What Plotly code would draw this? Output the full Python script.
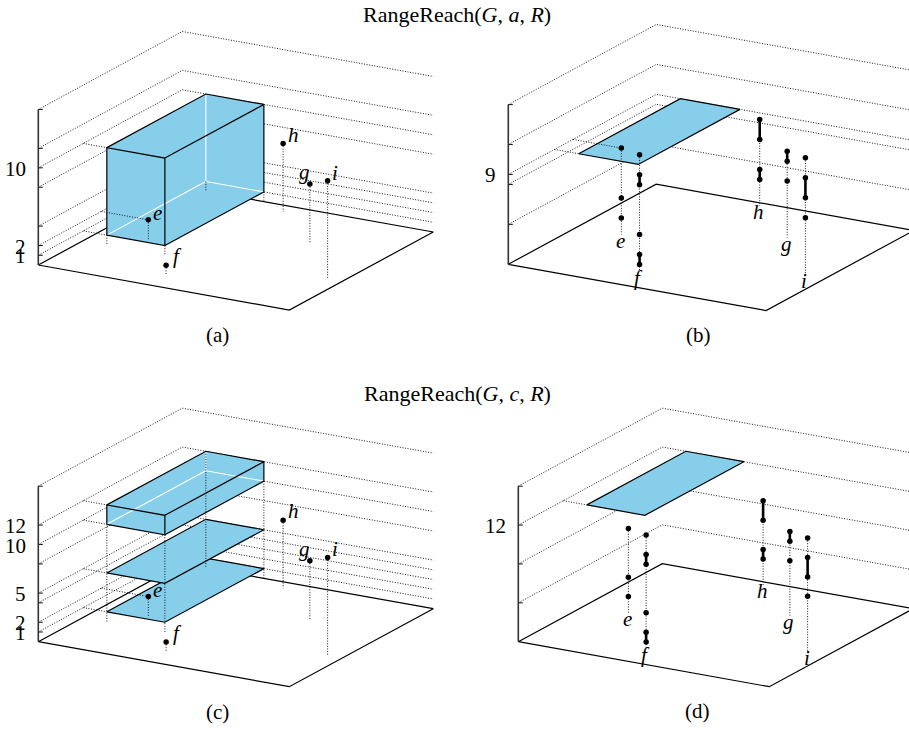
import plotly.graph_objects as go

# ---------------------------------------------------------------- data
# vertices of G: floor position (x, y) and their height z
NAMES = ["e", "f", "g", "h", "i"]
VX = [3, 7, 11, 7, 15]
VY = [7, 2, 11, 15, 6]
VZ = [2, 1, 6, 7, 10]

# floor footprint of the query region R
RX = [1.5, 5.2]
RY = [5, 16]

# z-extents of the region solids in each panel
A_BOX = [1, 10]
C_BOX = [10, 12]
C_PLANES = [5, 1]
B_PLANE = [9]
D_PLANE = [12]

# interval columns of panels (b) and (d): single instants and spans per vertex
E_POINTS = [9, 4, 2]
F_POINTS = [12, 4]
G_POINTS = [6]
H_POINTS = []
I_POINTS = [12, 6]
E_SPANS = []
F_SPANS = [[9, 10], [1, 2]]
G_SPANS = [[8, 9]]
H_SPANS = [[7, 9], [3, 4]]
I_SPANS = [[8, 10]]

# z ticks (grid levels) and the ones that carry a label
A_ZTICKS = [1, 2, 4, 8, 10, 12, 16]
A_ZBACK = [3]
A_ZLABELS = [1, 2, 10]
B_ZTICKS = [4, 8, 9, 12, 16]
B_ZLABELS = [9]
C_ZTICKS = [1, 2, 4, 5, 8, 10, 12, 16]
C_ZBACK = [3]
C_ZLABELS = [1, 2, 5, 10, 12]
D_ZTICKS = [4, 8, 12, 16]
D_ZLABELS = [12]

AXIS_MAX = 16

# ---------------------------------------------------------------- view
UX = (251 / 16, 45 / 16)
UY = (144 / 16, -78 / 16)
UZ = -9.72

W, H = 909, 731
BLUE = "#87CEEB"
DOT = "1px,1.6px"
GRID = "#1a1a1a"
FONT = "Liberation Serif"


class View:
    def __init__(self, ox, oy, k):
        self.ox, self.oy, self.k = ox, oy, k

    def p(self, x, y, z):
        k = self.k
        return (self.ox + k * (UX[0] * x + UY[0] * y),
                self.oy + k * (UX[1] * x + UY[1] * y + UZ * z))


fig = go.Figure()
annotations = []


def add_lines(view, polylines, color, width, dash=None):
    xs, ys = [], []
    for pl in polylines:
        for (x, y, z) in pl:
            px, py = view.p(x, y, z)
            xs.append(px)
            ys.append(py)
        xs.append(None)
        ys.append(None)
    fig.add_trace(go.Scatter(x=xs, y=ys, mode="lines",
                             line=dict(color=color, width=width, dash=dash),
                             hoverinfo="skip", showlegend=False))


def add_fill(view, polygons):
    xs, ys = [], []
    for poly in polygons:
        for (x, y, z) in poly + [poly[0]]:
            px, py = view.p(x, y, z)
            xs.append(px)
            ys.append(py)
        xs.append(None)
        ys.append(None)
    fig.add_trace(go.Scatter(x=xs, y=ys, mode="lines", fill="toself",
                             fillcolor=BLUE, line=dict(width=0, color=BLUE),
                             hoverinfo="skip", showlegend=False))


def add_dots(view, pts, size=5.5):
    xs, ys = [], []
    for (x, y, z) in pts:
        px, py = view.p(x, y, z)
        xs.append(px)
        ys.append(py)
    fig.add_trace(go.Scatter(x=xs, y=ys, mode="markers",
                             marker=dict(color="black", size=size, line=dict(width=0)),
                             hoverinfo="skip", showlegend=False))


def text(view, x, y, z, s, size=20, dx=0, dy=0, anchor="center"):
    px, py = view.p(x, y, z)
    annotations.append(dict(x=px, y=py, xref="x", yref="y", text=s, showarrow=False,
                            xanchor=anchor, yanchor="middle", xshift=dx, yshift=dy,
                            font=dict(family=FONT, size=size, color="black")))


def frame(view, zticks, zback, zlabels):
    m = AXIS_MAX
    back = sorted(set(zticks) | set(zback))
    grid = []
    for z in back:
        if z in zticks:
            grid.append([(0, 0, z), (0, m, z), (m, m, z)])
        else:
            grid.append([(0, m, z), (m, m, z)])
    add_lines(view, grid, GRID, 1.0, DOT)
    add_lines(view, [[(0, 0, 0), (m, 0, 0), (m, m, 0), (0, m, 0), (0, 0, 0)]], "black", 1.2)
    add_lines(view, [[(0, 0, 0), (0, 0, m)]], "#333", 1.6)
    # tick marks pointing into the plot
    xs, ys = [], []
    for z in zticks:
        px, py = view.p(0, 0, z)
        xs += [px, px + 4.5, None]
        ys += [py, py, None]
    fig.add_trace(go.Scatter(x=xs, y=ys, mode="lines", line=dict(color="#222", width=1.1),
                             hoverinfo="skip", showlegend=False))
    for z in zlabels:
        text(view, 0, 0, z, str(z), size=21, dx=-10.5, dy=-1, anchor="right")


def box(view, z0, z1):
    x0, x1 = RX
    y0, y1 = RY
    FLB, FRB, BRB, BLB = (x0, y0, z0), (x1, y0, z0), (x1, y1, z0), (x0, y1, z0)
    FLT, FRT, BRT, BLT = (x0, y0, z1), (x1, y0, z1), (x1, y1, z1), (x0, y1, z1)
    add_fill(view, [[FLB, FRB, BRB, BRT, BLT, FLT]])
    add_lines(view, [[BLB, BLT], [BLB, FLB], [BLB, BRB]], "white", 1.1)
    add_lines(view, [[FLB, FRB, FRT, FLT, FLB], [FLT, BLT, BRT, FRT],
                     [BRT, BRB, FRB]], "black", 1.2)


def plane(view, z):
    x0, x1 = RX
    y0, y1 = RY
    corners = [(x0, y0, z), (x1, y0, z), (x1, y1, z), (x0, y1, z)]
    add_fill(view, [corners])
    add_lines(view, [corners + [corners[0]]], "black", 1.2)


def points_panel(view):
    drops = [[(x, y, z), (x, y, 0)] for x, y, z in zip(VX, VY, VZ)]
    add_lines(view, drops, GRID, 1.0, DOT)
    add_dots(view, list(zip(VX, VY, VZ)))
    shifts = {"e": (9, 7), "f": (11, 9), "g": (-5, 12), "h": (10, 9), "i": (7, 8)}
    for n, x, y, z in zip(NAMES, VX, VY, VZ):
        dx, dy = shifts[n]
        text(view, x, y, z, "<i>%s</i>" % n, size=21, dx=dx, dy=dy)


def columns_panel(view):
    singles = [E_POINTS, F_POINTS, G_POINTS, H_POINTS, I_POINTS]
    spans = [E_SPANS, F_SPANS, G_SPANS, H_SPANS, I_SPANS]
    drops, thick, dots = [], [], []
    for x, y, pts, sps in zip(VX, VY, singles, spans):
        zs = list(pts) + [v for s in sps for v in s]
        drops.append([(x, y, max(zs)), (x, y, 0.35)])
        for a, b in sps:
            thick.append([(x, y, a), (x, y, b)])
        dots += [(x, y, z) for z in zs]
    add_lines(view, drops, GRID, 1.0, DOT)
    add_lines(view, thick, "black", 2.6)
    add_dots(view, dots)
    for n, x, y in zip(NAMES, VX, VY):
        text(view, x, y, 0, "<i>%s</i>" % n, size=21, dx=-1, dy=-3)


def corner_drops(view, ztop):
    return [[(x, y, ztop), (x, y, 0)] for x in RX for y in RY]


# ---------------------------------------------------------------- (a)
va = View(38.3, 265.0, 1.0)
frame(va, A_ZTICKS, A_ZBACK, A_ZLABELS)
box(va, A_BOX[0], A_BOX[1])
add_lines(va, corner_drops(va, A_BOX[0]), GRID, 1.0, DOT)
add_lines(va, [[(0, RY[0], A_BOX[1]), (RX[0], RY[0], A_BOX[1])],
               [(0, RY[0], A_BOX[0]), (RX[0], RY[0], A_BOX[0])],
               [(0, VY[0], VZ[0]), (VX[0], VY[0], VZ[0])]], GRID, 1.0, DOT)
points_panel(va)

# ---------------------------------------------------------------- (b)
vb = View(508.3, 264.3, 1.027)
frame(vb, B_ZTICKS, [], B_ZLABELS)
plane(vb, B_PLANE[0])
add_lines(vb, [[(0, RY[0], B_PLANE[0]), (RX[0], RY[0], B_PLANE[0])],
               [(0, VY[0], B_PLANE[0]), (VX[0], VY[0], B_PLANE[0])]], GRID, 1.0, DOT)
columns_panel(vb)

# ---------------------------------------------------------------- (c)
vc = View(38.3, 641.7, 1.0)
frame(vc, C_ZTICKS, C_ZBACK, C_ZLABELS)
for z in C_PLANES[::-1]:
    plane(vc, z)
box(vc, C_BOX[0], C_BOX[1])
drops_c = [[(RX[0], RY[1], C_BOX[1]), (RX[0], RY[1], 0)]]
drops_c += [[(x, y, C_BOX[0]), (x, y, 0)] for x in RX for y in RY if not (x == RX[0] and y == RY[1])]
add_lines(vc, drops_c, GRID, 1.0, DOT)
guides_c = [[(0, RY[0], z), (RX[0], RY[0], z)] for z in [C_BOX[1], C_BOX[0]] + C_PLANES]
guides_c.append([(0, VY[0], VZ[0]), (VX[0], VY[0], VZ[0])])
add_lines(vc, guides_c, GRID, 1.0, DOT)
points_panel(vc)

# ---------------------------------------------------------------- (d)
vd = View(518.3, 641.7, 1.0)
frame(vd, D_ZTICKS, [], D_ZLABELS)
plane(vd, D_PLANE[0])
add_lines(vd, [[(0, RY[0], D_PLANE[0]), (RX[0], RY[0], D_PLANE[0])]], GRID, 1.0, DOT)
columns_panel(vd)

# ---------------------------------------------------------------- titles and captions
def caption(px, py, s, size=21, yanchor="middle"):
    annotations.append(dict(x=px / W, y=1 - py / H, xref="paper", yref="paper", text=s,
                            showarrow=False, xanchor="center", yanchor=yanchor,
                            font=dict(family=FONT, size=size, color="black")))


caption(457, 0, "RangeReach(<i>G</i>, <i>a</i>, <i>R</i>)", 22, yanchor="top")
caption(457, 393, "RangeReach(<i>G</i>, <i>c</i>, <i>R</i>)", 22)
caption(217, 335, "(a)")
caption(698, 335, "(b)")
caption(217, 712, "(c)")
caption(697, 711, "(d)")

fig.update_layout(
    width=W, height=H, margin=dict(l=0, r=0, t=0, b=0),
    paper_bgcolor="white", plot_bgcolor="white",
    xaxis=dict(range=[0, W], visible=False, fixedrange=True),
    yaxis=dict(range=[H, 0], visible=False, fixedrange=True),
    showlegend=False, hovermode=False, annotations=annotations,
)

fig.write_html("out.html")
